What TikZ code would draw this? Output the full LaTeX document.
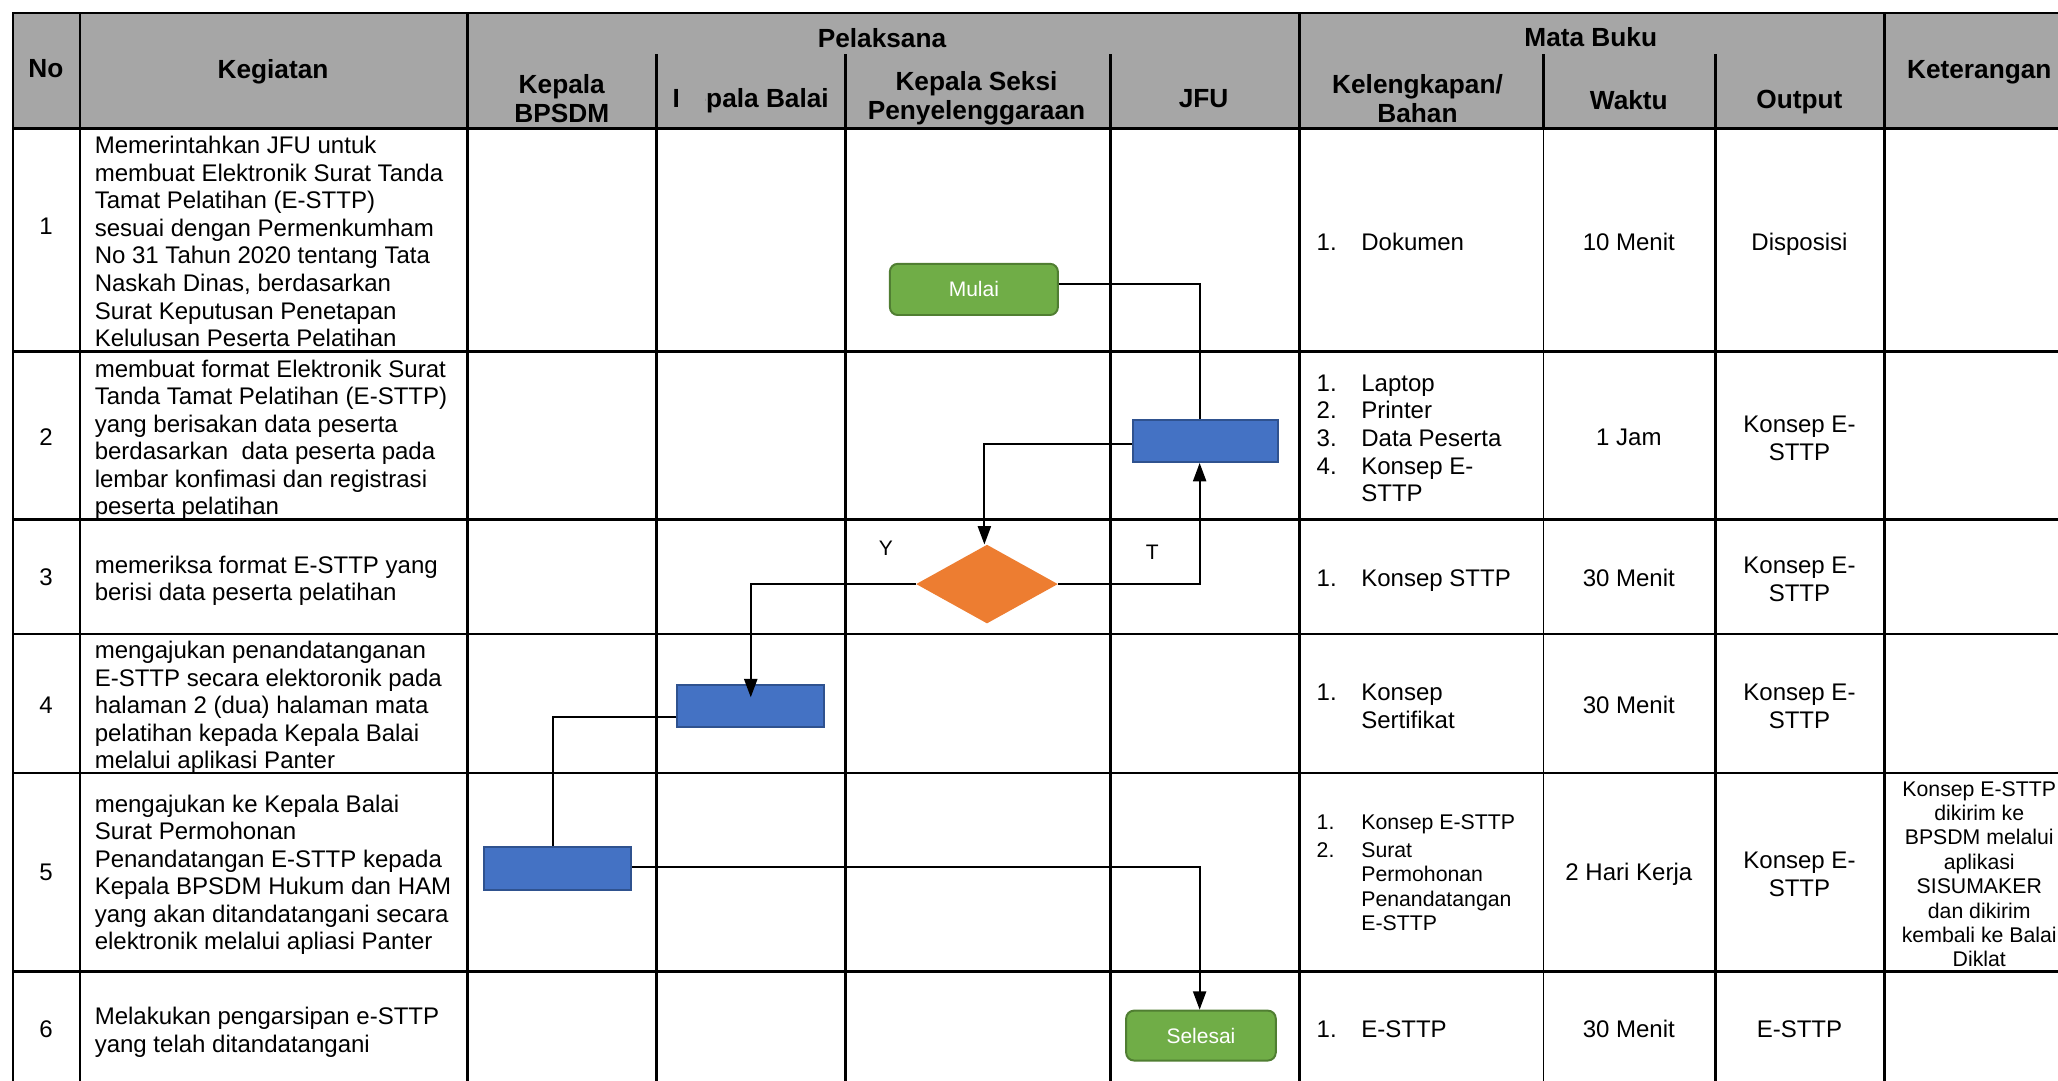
\documentclass[tikz,border=0pt]{standalone}
\usepackage{fontspec}
\setmainfont{Liberation Sans}
\usetikzlibrary{arrows.meta,shapes.geometric}
\definecolor{hdrgray}{HTML}{A6A6A6}
\definecolor{fcblue}{HTML}{4472C4}
\definecolor{fcblueb}{HTML}{2F528F}
\definecolor{fcgreen}{HTML}{70AD47}
\definecolor{fcgreenb}{HTML}{507E32}
\definecolor{fcorange}{HTML}{ED7D31}
\tikzset{
 tl/.style={line width=2pt, line cap=rect},
 tlthin/.style={line width=1pt},
 hd/.style={font=\fontsize{20}{22}\selectfont\bfseries, inner sep=0pt, align=center},
 bd/.style={font=\fontsize{18.3}{21}\selectfont, inner sep=0pt, align=left, anchor=west},
 bc/.style={font=\fontsize{18.3}{21}\selectfont, inner sep=0pt, align=center},
 sm/.style={font=\fontsize{16.2}{18.6}\selectfont, inner sep=0pt},
 proc/.style={rectangle, fill=fcblue, draw=fcblueb, line width=1.5pt, inner sep=0pt},
 term/.style={rectangle, rounded corners=6pt, fill=fcgreen, draw=fcgreenb, line width=1.5pt, text=white, font=\fontsize{16}{19}\selectfont, inner sep=0pt},
 dec/.style={diamond, fill=fcorange, inner sep=0pt, aspect=1.8},
 conn/.style={line width=1.5pt, draw=black},
 arr/.style={conn, -{Triangle[length=14pt,width=10pt]}},
 lbl/.style={font=\fontsize{16}{19}\selectfont, inner sep=0pt},
}
\newcommand{\itm}[1]{\makebox[34pt][l]{#1}}
\begin{document}
\begin{tikzpicture}[x=1pt,y=-1pt]
\useasboundingbox (0,0) rectangle (1568,823);
\clip (0,0) rectangle (1568,823);
\fill[white] (0,0) rectangle (1568,823);
% header background
\fill[hdrgray] (10,10) rectangle (1600,98);
% horizontal lines
\foreach \yy in {10,98,268,396,483,589,740}{
  \draw[tl] (10,\yy) -- (1600,\yy);
}
% full-height verticals
\foreach \xx in {10,61,356,990,1436}{
  \draw[tl] (\xx,10) -- (\xx,830);
}
% sub-column verticals
\foreach \xx in {500,644,846,1307}{
  \draw[tl] (\xx,42) -- (\xx,830);
}
\draw[tl] (1176,42) -- (1176,98);
\draw[tlthin] (1176,98) -- (1176,830);

% header texts
\node[hd] (hno) at (35,52) {No};
\node[hd] (hkeg) at (208,55) {Kegiatan};
\node[hd] (hpel) at (672,29) {Pelaksana};
\node[hd] (hmb) at (1212,28) {Mata Buku};
\node[hd] (hket) at (1508,55) {Keterangan};
\node[hd] (hbp) at (428,75) {Kepala\\BPSDM};
\node[hd] (hbal) at (572,77) {Kepala Balai};
\fill[hdrgray] ([xshift=4.5pt,yshift=-2pt]hbal.south west) rectangle ([xshift=25pt,yshift=2pt]hbal.north west);
\node[hd] (hks) at (744,75) {Kepala Seksi\\Penyelenggaraan};
\node[hd] (hjfu) at (917,75) {JFU};
\node[hd] (hkel) at (1080,75) {Kelengkapan/\\Bahan};
\node[hd] (hwak) at (1241,76) {Waktu};
\node[hd] (hout) at (1371,78) {Output};

% numbers
\node[bc] (n1) at (35,172) {1};
\node[bc] (n2) at (35,333) {2};
\node[bc] (n3) at (35,440) {3};
\node[bc] (n4) at (35,537) {4};
\node[bc] (n5) at (35,665) {5};
\node[bc] (n6) at (35,784) {6};

% kegiatan
\node[bd] (g1) at (72,184) {Memerintahkan JFU untuk\\membuat Elektronik Surat Tanda\\Tamat Pelatihan (E-STTP)\\sesuai dengan Permenkumham\\No 31 Tahun 2020 tentang Tata\\Naskah Dinas, berdasarkan\\Surat Keputusan Penetapan\\Kelulusan Peserta Pelatihan};
\node[bd] (g2) at (72,335) {membuat format Elektronik Surat\\Tanda Tamat Pelatihan (E-STTP)\\yang berisakan data peserta\\berdasarkan\ \ data peserta pada\\lembar konfimasi dan registrasi\\peserta pelatihan};
\node[bd] (g3) at (72,442.5) {memeriksa format E-STTP yang\\berisi data peserta pelatihan};
\node[bd] (g4) at (72,539) {mengajukan penandatanganan\\E-STTP secara elektoronik pada\\halaman 2 (dua) halaman mata\\pelatihan kepada Kepala Balai\\melalui aplikasi Panter};
\node[bd] (g5) at (72,666.5) {mengajukan ke Kepala Balai\\Surat Permohonan\\Penandatangan E-STTP kepada\\Kepala BPSDM Hukum dan HAM\\yang akan ditandatangani secara\\elektronik melalui apliasi Panter};
\node[bd] (g6) at (72,786.5) {Melakukan pengarsipan e-STTP\\yang telah ditandatangani};

% kelengkapan
\node[bd] (k1) at (1003,184) {\itm{1.}Dokumen};
\node[bd] (k2) at (1003,334) {\itm{1.}Laptop\\\itm{2.}Printer\\\itm{3.}Data Peserta\\\itm{4.}Konsep E-\\\hspace*{34pt}STTP};
\node[bd] (k3) at (1003,442.5) {\itm{1.}Konsep STTP};
\node[bd] (k4) at (1003,538) {\itm{1.}Konsep\\\hspace*{34pt}Sertifikat};
\node[bd,sm] (k5) at (1003,665) {\itm{1.}Konsep E-STTP\\[2.5pt]\itm{2.}Surat\\\hspace*{34pt}Permohonan\\\hspace*{34pt}Penandatangan\\\hspace*{34pt}E-STTP};
\node[bd] (k6) at (1003,784) {\itm{1.}E-STTP};

% waktu
\node[bc] (w1) at (1241,184) {10 Menit};
\node[bc] (w2) at (1241,333) {1 Jam};
\node[bc] (w3) at (1241,440) {30 Menit};
\node[bc] (w4) at (1241,537) {30 Menit};
\node[bc] (w5) at (1241,666) {2 Hari Kerja};
\node[bc] (w6) at (1241,784) {30 Menit};

% output
\node[bc] (o1) at (1371,186) {Disposisi};
\node[bc] (o2) at (1371,334) {Konsep E-\\STTP};
\node[bc] (o3) at (1371,441.5) {Konsep E-\\STTP};
\node[bc] (o4) at (1371,538) {Konsep E-\\STTP};
\node[bc] (o5) at (1371,666) {Konsep E-\\STTP};
\node[bc] (o6) at (1371,784) {E-STTP};

% keterangan
\node[sm,align=center] (ket5) at (1508,666) {Konsep E-STTP\\dikirim ke\\BPSDM melalui\\aplikasi\\SISUMAKER\\dan dikirim\\kembali ke Balai\\Diklat};

% flowchart
\node[term, minimum width=128pt, minimum height=39pt] (mulai) at (742,220.5) {Mulai};
\node[proc, minimum width=111pt, minimum height=32pt] (p1) at (918.5,336) {};
\node[dec, minimum width=108pt, minimum height=60pt] (d1) at (752,445) {};
\node[proc, minimum width=112pt, minimum height=32pt] (p2) at (572,538) {};
\node[proc, minimum width=112pt, minimum height=33pt] (p3) at (425,661.5) {};
\node[term, minimum width=114pt, minimum height=38pt] (sel) at (915,789) {Selesai};

\node[lbl] (ly) at (675,418) {Y};
\node[lbl] (lt) at (878,421) {T};

\draw[conn] ([yshift=4pt]mulai.east) -| ([xshift=-4.5pt]p1.north);
\draw[arr] ([yshift=-2pt]p1.west) -| ([xshift=-2pt]d1.north);
\draw[arr] (d1.east) -| ([xshift=-4.5pt]p1.south);
\draw[arr] (d1.west) -| ([yshift=-10pt]p2.north);
\draw[conn] ([yshift=-8pt]p2.west) -| ([xshift=-4pt]p3.north);
\draw[arr] ([yshift=1pt]p3.east) -| ([xshift=-1pt]sel.north);
\end{tikzpicture}
\end{document}
